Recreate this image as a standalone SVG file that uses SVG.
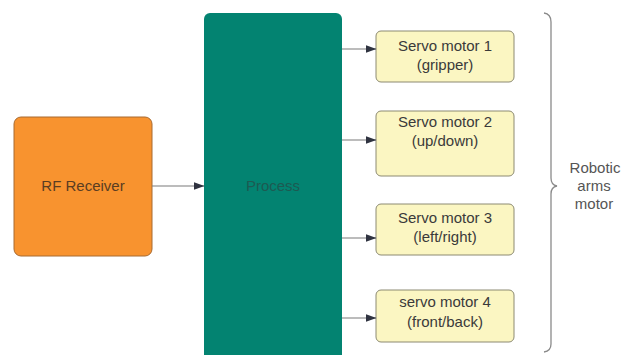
<svg xmlns="http://www.w3.org/2000/svg" width="621" height="355" viewBox="0 0 621 355">
  <style>
    .lbl { font-family: "Liberation Sans", Arial, sans-serif; font-size: 15px; text-anchor: middle; }
    .servo rect { fill: #fbf6c2; stroke: #8c8a72; stroke-width: 1; }
    .servo text { fill: #3a3a3a; }
    .wire { stroke: #7a7a7a; stroke-width: 1.2; fill: none; marker-end: url(#head); }
  </style>
  <defs>
    <marker id="head" markerWidth="11" markerHeight="9" refX="10.5" refY="4.5" orient="auto" markerUnits="userSpaceOnUse">
      <path d="M0,0.5 L11,4.5 L0,8.5 Z" fill="#2f3340"/>
    </marker>
  </defs>
  <rect width="621" height="355" fill="#ffffff"/>

  <g id="rf-receiver">
    <rect x="14" y="117" width="138" height="139" rx="7" fill="#f8932f" stroke="#a86a30" stroke-width="1"/>
    <text class="lbl" x="83" y="191" fill="#5a3d22">RF Receiver</text>
  </g>

  <g id="process">
    <rect x="204" y="13" width="138" height="360" rx="6" fill="#038371"/>
    <text class="lbl" x="273" y="191" fill="#1d5a52">Process</text>
  </g>

  <g id="servo1" class="servo">
    <rect x="376" y="31" width="138" height="51" rx="5"/>
    <text class="lbl" x="445" y="51">Servo motor 1</text>
    <text class="lbl" x="445" y="70">(gripper)</text>
  </g>
  <g id="servo2" class="servo">
    <rect x="376" y="111" width="138" height="65" rx="5"/>
    <text class="lbl" x="445" y="127">Servo motor 2</text>
    <text class="lbl" x="445" y="146">(up/down)</text>
  </g>
  <g id="servo3" class="servo">
    <rect x="376" y="204" width="138" height="51" rx="5"/>
    <text class="lbl" x="445" y="223">Servo motor 3</text>
    <text class="lbl" x="445" y="242">(left/right)</text>
  </g>
  <g id="servo4" class="servo">
    <rect x="376" y="290" width="138" height="52" rx="5"/>
    <text class="lbl" x="445" y="307">servo motor 4</text>
    <text class="lbl" x="445" y="327">(front/back)</text>
  </g>

  <g id="robotic-arms">
    <path d="M544,13 Q551,14 551,22 L551,178 Q551,185 557,186 Q551,187 551,194 L551,344 Q551,351 544,352" fill="none" stroke="#8a8a8a" stroke-width="1.3"/>
    <text class="lbl" x="595" y="173" fill="#555555">Robotic</text>
    <text class="lbl" x="594" y="191" fill="#555555">arms</text>
    <text class="lbl" x="594" y="209" fill="#555555">motor</text>
  </g>

  <g id="connectors">
    <line class="wire" x1="152" y1="186" x2="204" y2="186"/>
    <line class="wire" x1="342" y1="49" x2="376" y2="49"/>
    <line class="wire" x1="342" y1="140" x2="376" y2="140"/>
    <line class="wire" x1="342" y1="238" x2="376" y2="238"/>
    <line class="wire" x1="342" y1="318" x2="376" y2="318"/>
  </g>
</svg>
